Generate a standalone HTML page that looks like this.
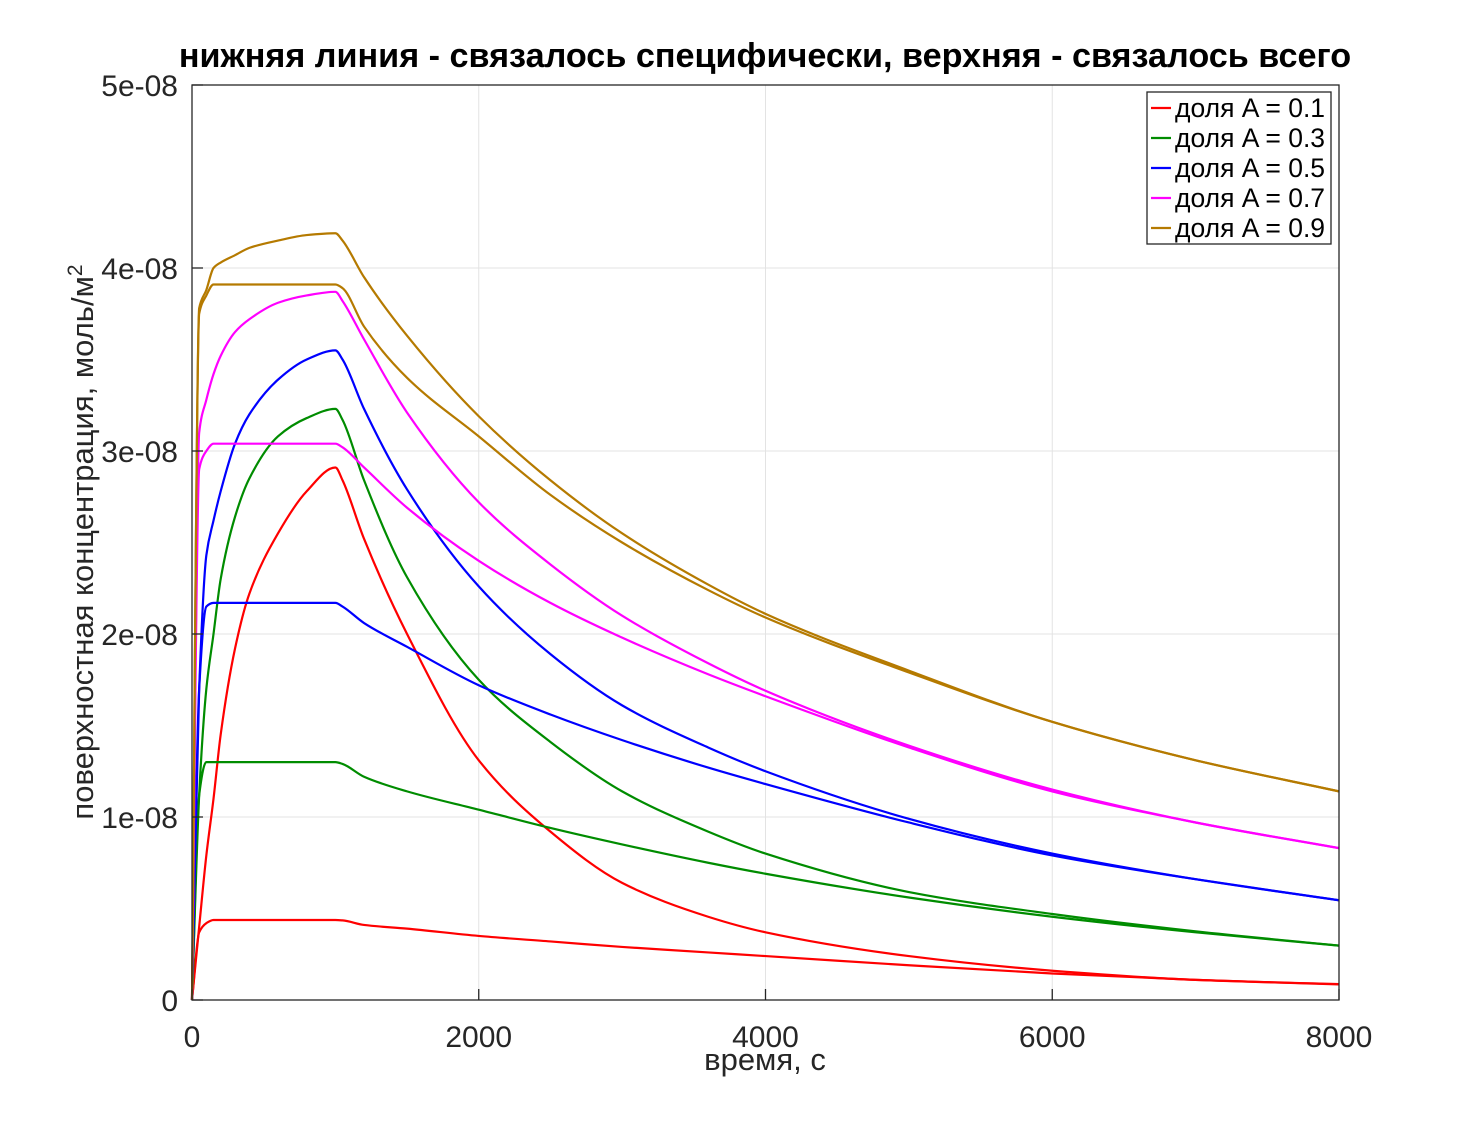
<!DOCTYPE html>
<html><head><meta charset="utf-8"><style>
html,body{margin:0;padding:0;background:#fff;}
svg{display:block;font-family:"Liberation Sans",sans-serif;}
</style></head><body>
<svg id="chart" width="1480" height="1124" xmlns="http://www.w3.org/2000/svg">
<rect width="1480" height="1124" fill="#fff"/>
<g id="grid"></g>
<g id="series"></g>
<g id="axes"></g>
<text x="765" y="67" text-anchor="middle" font-size="34.2" font-weight="bold">нижняя линия - связалось специфически, верхняя - связалось всего</text>
<text x="765" y="1070" text-anchor="middle" font-size="31" fill="#262626">время, с</text>
<text transform="translate(93,542) rotate(-90)" text-anchor="middle" font-size="31" fill="#262626">поверхностная концентрация, моль/м<tspan dy="-11" font-size="21">2</tspan></text>
<g id="legend"></g>
</svg>
<script>
const times=[0,50,100,150,200,300,400,600,800,1000,1050,1200,1500,2000,2500,3000,3600,4000,5000,6000,7000,8000];
const labels=["доля A = 0.1","доля A = 0.3","доля A = 0.5","доля A = 0.7","доля A = 0.9"];
const colors=["#ff0000","#008c00","#0000ff","#ff00ff","#b57a00"];
// values in units of 1e-8
const lowerA01=[0,0.37,0.42,0.437,0.437,0.437,0.437,0.437,0.437,0.437,0.435,0.41,0.39,0.35,0.32,0.29,0.26,0.24,0.19,0.145,0.11,0.085];
const upperA01=[0,0.40,0.79,1.1,1.45,1.92,2.22,2.55,2.78,2.91,2.84,2.52,2.0,1.31,0.92,0.64,0.455,0.37,0.24,0.16,0.11,0.087];
const lowerA03=[0,1.12,1.3,1.3,1.3,1.3,1.3,1.3,1.3,1.3,1.29,1.22,1.14,1.04,0.94,0.85,0.75,0.69,0.56,0.455,0.37,0.297];
const upperA03=[0,1.12,1.7,2.0,2.3,2.64,2.85,3.08,3.18,3.23,3.17,2.84,2.31,1.75,1.41,1.14,0.92,0.80,0.59,0.47,0.375,0.297];
const lowerA05=[0,1.7,2.15,2.17,2.17,2.17,2.17,2.17,2.17,2.17,2.15,2.06,1.93,1.72,1.56,1.42,1.27,1.18,0.97,0.79,0.66,0.545];
const upperA05=[0,1.7,2.43,2.62,2.78,3.04,3.2,3.39,3.5,3.55,3.5,3.23,2.79,2.26,1.89,1.61,1.38,1.25,0.99,0.80,0.66,0.545];
const lowerA07=[0,2.9,3.0,3.04,3.04,3.04,3.04,3.04,3.04,3.04,3.02,2.91,2.69,2.40,2.17,1.98,1.78,1.66,1.38,1.14,0.97,0.83];
const upperA07=[0,3.1,3.28,3.42,3.52,3.65,3.72,3.81,3.85,3.87,3.82,3.61,3.21,2.72,2.38,2.10,1.84,1.69,1.39,1.15,0.97,0.83];
const lowerA09=[0,3.75,3.85,3.91,3.91,3.91,3.91,3.91,3.91,3.91,3.89,3.68,3.40,3.08,2.76,2.50,2.24,2.09,1.79,1.52,1.31,1.14];
const upperA09=[0,3.78,3.88,4.0,4.03,4.07,4.11,4.15,4.18,4.19,4.15,3.95,3.63,3.19,2.84,2.55,2.27,2.11,1.80,1.52,1.31,1.14];
const xTicks=[0,2000,4000,6000,8000];
const yTicks=[0,1,2,3,4,5];
const yTickLabels=["0","1e-08","2e-08","3e-08","4e-08","5e-08"];
const lowers=[lowerA01,lowerA03,lowerA05,lowerA07,lowerA09];
const uppers=[upperA01,upperA03,upperA05,upperA07,upperA09];

const X0=192,X1=1339,Y0=1000,Y1=85;
const xs=t=>X0+(t/8000)*(X1-X0);
const ys=v=>Y0-(v/5)*(Y0-Y1);
const NS="http://www.w3.org/2000/svg";
function mk(tag,attrs,parent){const e=document.createElementNS(NS,tag);for(const k in attrs)e.setAttribute(k,attrs[k]);parent.appendChild(e);return e;}
const grid=document.getElementById('grid'),axes=document.getElementById('axes'),ser=document.getElementById('series'),leg=document.getElementById('legend');
xTicks.forEach(t=>{
  const l=mk('line',{x1:xs(t),x2:xs(t),y1:Y1,y2:Y0,stroke:'#e3e3e3','stroke-width':1},grid);
  
  
  const tk=mk('line',{x1:xs(t),x2:xs(t),y1:Y0,y2:Y0-11,stroke:'#262626','stroke-width':1.3},axes);
  
  
  const tx=mk('text',{x:xs(t),y:1047,'text-anchor':'middle','font-size':30,fill:'#262626'},axes);
  tx.textContent=String(t);
  
  
});
yTicks.forEach((v,i)=>{
  const l=mk('line',{x1:X0,x2:X1,y1:ys(v),y2:ys(v),stroke:'#e3e3e3','stroke-width':1},grid);
  
  
  const tk=mk('line',{x1:X0,x2:X0+11,y1:ys(v),y2:ys(v),stroke:'#262626','stroke-width':1.3},axes);
  
  
  const tx=mk('text',{x:178,y:ys(v)+11,'text-anchor':'end','font-size':30,fill:'#262626'},axes);
  tx.textContent=yTickLabels[i];
  
  
});
const box=mk('rect',{x:X0,y:Y1,width:X1-X0,height:Y0-Y1,fill:'none',stroke:'#262626','stroke-width':1.3},axes);


// monotone cubic (Fritsch-Carlson) path through data points
function pathFor(arr){
  const n=times.length,x=times,y=arr;
  const d=[],m=new Array(n);
  for(let i=0;i<n-1;i++)d.push((y[i+1]-y[i])/(x[i+1]-x[i]));
  m[0]=d[0];m[n-1]=d[n-2];
  for(let i=1;i<n-1;i++){
    if(d[i-1]*d[i]<=0)m[i]=0;
    else{const h0=x[i]-x[i-1],h1=x[i+1]-x[i];const w1=2*h1+h0,w2=h1+2*h0;m[i]=(w1+w2)/(w1/d[i-1]+w2/d[i]);}
  }
  let s='M'+xs(x[0]).toFixed(2)+','+ys(y[0]).toFixed(2);
  for(let i=0;i<n-1;i++){
    const h=x[i+1]-x[i];
    const c1x=x[i]+h/3,c1y=y[i]+m[i]*h/3,c2x=x[i+1]-h/3,c2y=y[i+1]-m[i+1]*h/3;
    s+=' C'+xs(c1x).toFixed(2)+','+ys(c1y).toFixed(2)+' '+xs(c2x).toFixed(2)+','+ys(c2y).toFixed(2)+' '+xs(x[i+1]).toFixed(2)+','+ys(y[i+1]).toFixed(2);
  }
  return s;
}
for(let i=0;i<5;i++){
  const a=mk('path',{d:pathFor(lowers[i]),fill:'none',stroke:colors[i],'stroke-width':2.2,'stroke-linejoin':'round'},ser);
  
  
  const b=mk('path',{d:pathFor(uppers[i]),fill:'none',stroke:colors[i],'stroke-width':2.2,'stroke-linejoin':'round'},ser);
  
  
}
const lb=mk('rect',{x:1147,y:92,width:184,height:152,fill:'#fff',stroke:'#262626','stroke-width':1.3},leg);


labels.forEach((s,i)=>{
  const y=108+i*30;
  const l=mk('line',{x1:1151,x2:1171,y1:y,y2:y,stroke:colors[i],'stroke-width':2.2},leg);
  
  
  const t=mk('text',{x:1175,y:y+9,'font-size':26.5,fill:'#000'},leg);
  t.textContent=s;
  
  
});
</script>
</body></html>
